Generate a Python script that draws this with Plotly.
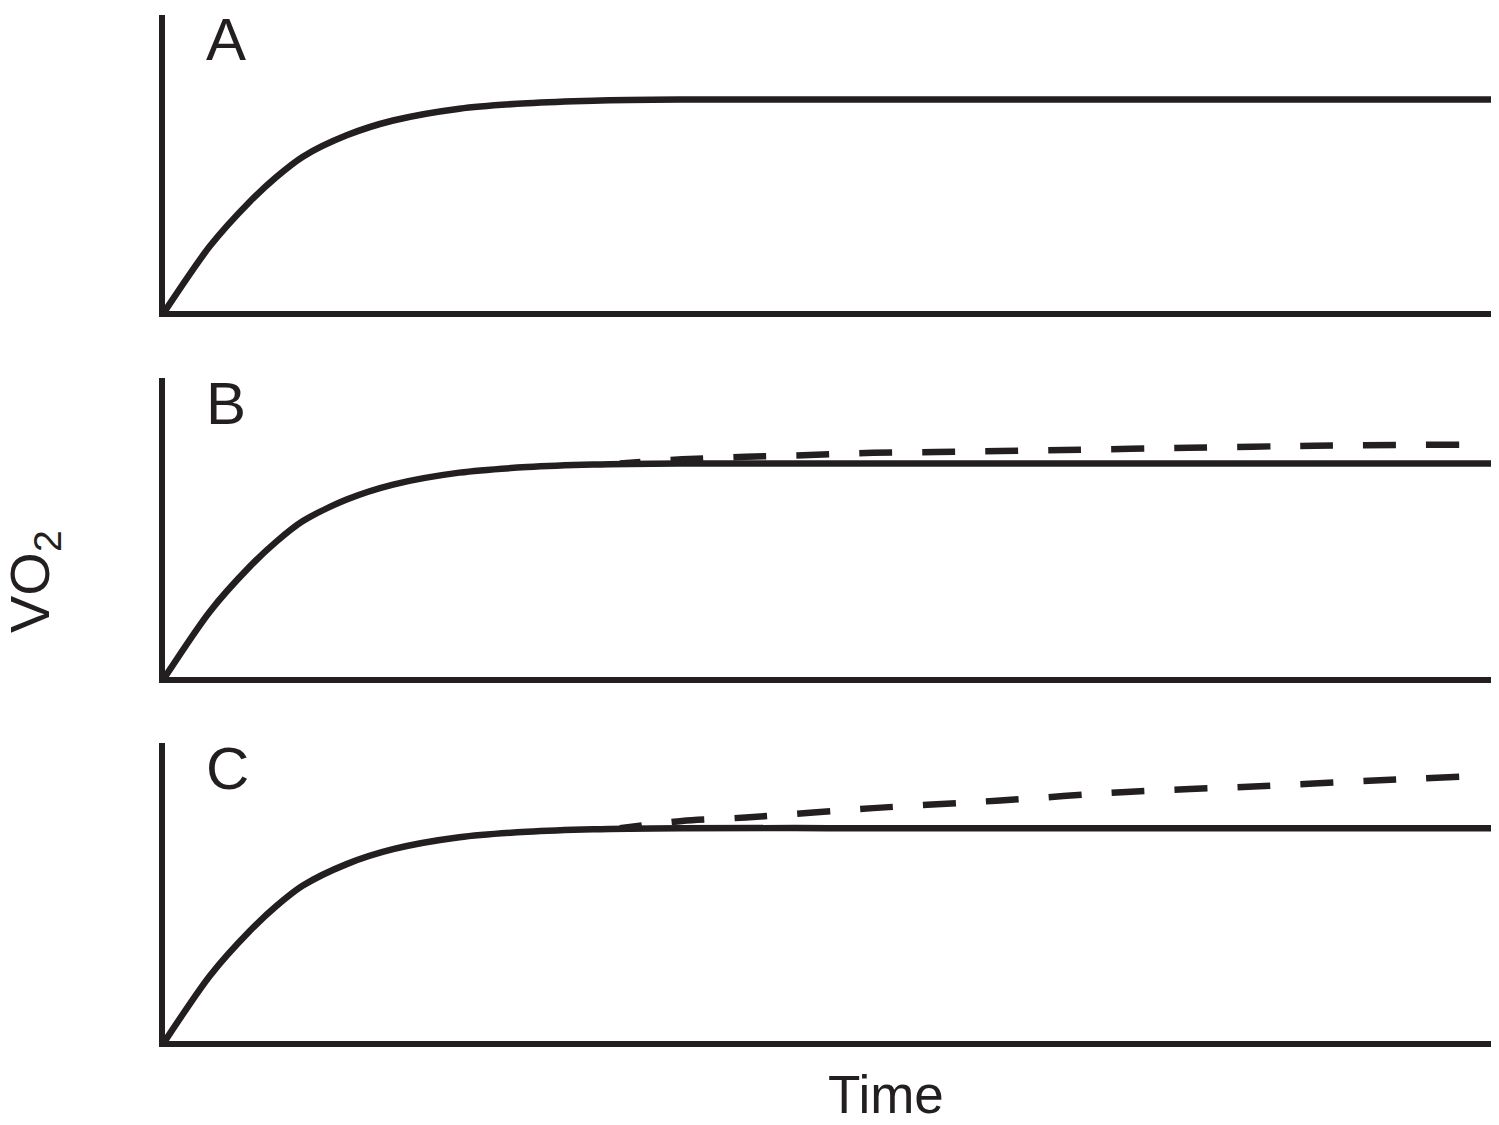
import plotly.graph_objects as go

# ---- data (time in arbitrary units, VO2 relative to steady state) ----
time_solid = [0, 3.39, 6.41, 8.42, 10.4, 13.7, 17.2, 22.2, 27.3, 32.3, 38.8, 50, 100]
vo2_solid = [0, 0.307, 0.518, 0.635, 0.73, 0.831, 0.901, 0.957, 0.983, 0.995, 1.0, 1.0, 1.0]

time_dash_b = [34.3, 39.0, 43.8, 48.6, 53.4, 58.2, 63.0, 67.8, 77.2, 86.7, 97.6]
vo2_dash_b = [1.0, 1.019, 1.031, 1.039, 1.05, 1.053, 1.058, 1.063, 1.073, 1.083, 1.088]

time_dash_c = [34.3, 39.0, 43.8, 53.4, 63.0, 72.5, 82.1, 91.6, 97.6]
vo2_dash_c = [1.0, 1.034, 1.05, 1.094, 1.13, 1.17, 1.196, 1.225, 1.241]

panel_labels = ["A", "B", "C"]
x_title = "Time"
y_title = "VO<sub>2</sub>"

# page body has an 8px margin; figure sized to fit inside the window
OFF = 8
W, H = 1483, 1109
ink = "#231f20"
font = "Liberation Sans, Arial, sans-serif"


def px(x):
    return (x - OFF) / W


def py(y):
    return 1 - (y - OFF) / H


fig = go.Figure()

# panel extents in page pixels (top, bottom)
panels = [(15, 311), (378, 677), (743, 1041)]
x_left, x_right = 165, 1491

dashes = [None, (time_dash_b, vo2_dash_b), (time_dash_c, vo2_dash_c)]

for i, (top, bottom) in enumerate(panels):
    n = "" if i == 0 else str(i + 1)
    xa, ya = "x" + n, "y" + n
    fig.add_trace(go.Scatter(x=time_solid, y=vo2_solid, mode="lines",
                             line=dict(color=ink, width=6.5, shape="spline", smoothing=0.8),
                             xaxis=xa, yaxis=ya, showlegend=False, hoverinfo="skip"))
    if dashes[i] is not None:
        tx, vy = dashes[i]
        # drawn from the right end so the pattern ends on a full dash
        fig.add_trace(go.Scatter(x=list(reversed(tx)), y=list(reversed(vy)), mode="lines",
                                 line=dict(color=ink, width=6.5, dash="33px,30px",
                                           shape="spline", smoothing=0.8),
                                 xaxis=xa, yaxis=ya, showlegend=False, hoverinfo="skip"))
    ax_common = dict(showline=True, linecolor=ink, linewidth=6, showgrid=False,
                     zeroline=False, showticklabels=False, ticks="", fixedrange=True)
    fig.layout["xaxis" + n] = dict(domain=[px(x_left), min(1.0, px(x_right))], range=[0, 100],
                                   anchor=ya, **ax_common)
    fig.layout["yaxis" + n] = dict(domain=[py(bottom), py(top)], range=[0, 1.4],
                                   anchor=xa, **ax_common)
    fig.add_annotation(text=panel_labels[i], x=px(204), y=py(top + 25),
                       xref="paper", yref="paper", xanchor="left", yanchor="middle",
                       showarrow=False, font=dict(family=font, size=60, color=ink))

fig.add_annotation(text=x_title, x=px(886), y=py(1094), xref="paper", yref="paper",
                   xanchor="center", yanchor="middle", showarrow=False,
                   font=dict(family=font, size=53, color=ink))
fig.add_annotation(text=y_title, x=px(33), y=py(582), xref="paper", yref="paper",
                   xanchor="center", yanchor="middle", textangle=-90, showarrow=False,
                   font=dict(family=font, size=56, color=ink))

fig.update_layout(width=W, height=H, margin=dict(l=0, r=0, t=0, b=0),
                  paper_bgcolor="white", plot_bgcolor="white")

fig.write_html("out.html")
